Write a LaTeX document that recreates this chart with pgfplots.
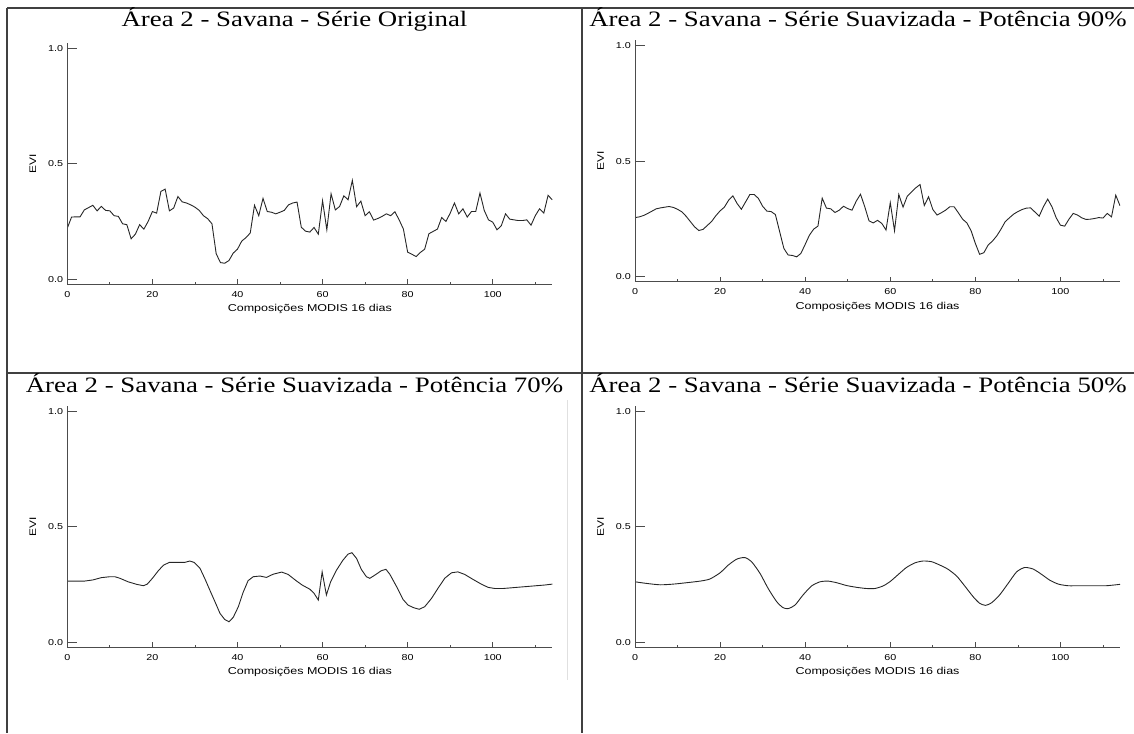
\documentclass[border=0pt]{standalone}
\usepackage{fontspec}
\setmainfont{Liberation Serif}[FakeStretch=1.22]
\setsansfont{Liberation Sans}[FakeStretch=1.25]
\usepackage{pgfplots}
\pgfplotsset{compat=1.18}

\pgfplotsset{
  panelbase/.style={
    scale only axis, width=485pt, height=241.6pt,
    xmin=0, xmax=114, ymin=-0.022, ymax=1.024,
    anchor=south west,
    /pgf/number format/assume math mode=true,
    tick label style={font=\sffamily\fontsize{8.6}{9}\selectfont},
    axis line style={-, black!70, line width=0.9pt},
    tick style={black!70, line width=0.8pt},
    tick align=inside,
  },
  xpanel/.style={panelbase,
    axis x line*=bottom, axis y line=none,
    xtick={0,20,40,60,80,100}, xticklabels={0,20,40,60,80,100},
    minor xtick={10,30,50,70,90,110},
    major tick length=5pt, minor tick length=2.5pt,
    ytick=\empty,
    xlabel={Composições MODIS 16 dias},
    every axis x label/.style={at={(axis description cs:0.5,0)}, anchor=north, inner sep=0pt, yshift=-20pt, font=\sffamily\fontsize{10}{11}\selectfont},
    xticklabel style={anchor=north, inner sep=0pt, yshift=-7pt},
  },
  ypanel/.style={panelbase,
    axis y line*=left, axis x line=none,
    ytick={0,0.5,1}, yticklabels={0.0,0.5,1.0},
    xtick=\empty,
    major tick length=9.5pt,
    ylabel={EVI},
    every axis y label/.style={at={(axis description cs:-0.071,0.5)}, rotate=90, anchor=center, inner sep=0pt, font=\sffamily\fontsize{9.5}{10}\selectfont},
    yticklabel style={anchor=east, inner sep=0pt, xshift=-4pt},
  },
  curve/.style={black!85, line width=0.9pt, mark=none},
}

\begin{document}
\begin{tikzpicture}
\useasboundingbox (0pt,0pt) rectangle (1134pt,733pt);
% table borders
\draw[black!75, line width=1.2pt] (7pt,725pt) -- (1134pt,725pt);
\draw[black!75, line width=1.2pt] (7pt,360pt) -- (1134pt,360pt);
\draw[black!75, line width=1.2pt] (7pt,725pt) -- (7pt,0pt);
\draw[black!75, line width=1.2pt] (582pt,725pt) -- (582pt,0pt);
\draw[black!12, line width=0.8pt] (567pt,333pt) -- (567pt,53pt);

% titles
\node[anchor=base, inner sep=0pt, font=\rmfamily\fontsize{22}{24}\selectfont] at (294.5pt,706pt) {Área 2 - Savana - Série Original};
\node[anchor=base, inner sep=0pt, font=\rmfamily\fontsize{22}{24}\selectfont] at (858pt,706pt) {Área 2 - Savana - Série Suavizada - Potência 90\%};
\node[anchor=base, inner sep=0pt, font=\rmfamily\fontsize{22}{24}\selectfont] at (294.5pt,340pt) {Área 2 - Savana - Série Suavizada - Potência 70\%};
\node[anchor=base, inner sep=0pt, font=\rmfamily\fontsize{22}{24}\selectfont] at (858pt,340pt) {Área 2 - Savana - Série Suavizada - Potência 50\%};

% ---------- Panel 1: original ----------
\begin{axis}[xpanel, at={(67.3pt,448.7pt)}]
\addplot[curve] coordinates {
(0,0.221) (1,0.269) (2,0.270) (3,0.270) (4,0.300) (5,0.310) (6,0.320) (7,0.296) (8,0.315) (9,0.298)
(10,0.296) (11,0.275) (12,0.272) (13,0.240) (14,0.236) (15,0.175) (16,0.195) (17,0.236) (18,0.217) (19,0.250)
(20,0.293) (21,0.286) (22,0.380) (23,0.390) (24,0.296) (25,0.308) (26,0.358) (27,0.335) (28,0.330) (29,0.322)
(30,0.312) (31,0.298) (32,0.275) (33,0.262) (34,0.240) (35,0.110) (36,0.072) (37,0.069) (38,0.081) (39,0.113)
(40,0.130) (41,0.165) (42,0.180) (43,0.200) (44,0.320) (45,0.275) (46,0.350) (47,0.293) (48,0.290) (49,0.283)
(50,0.290) (51,0.298) (52,0.322) (53,0.330) (54,0.334) (55,0.225) (56,0.208) (57,0.204) (58,0.224) (59,0.195)
(60,0.340) (61,0.214) (62,0.370) (63,0.300) (64,0.315) (65,0.361) (66,0.344) (67,0.428) (68,0.314) (69,0.338)
(70,0.275) (71,0.292) (72,0.256) (73,0.263) (74,0.272) (75,0.283) (76,0.275) (77,0.292) (78,0.257) (79,0.217)
(80,0.117) (81,0.108) (82,0.098) (83,0.116) (84,0.130) (85,0.197) (86,0.207) (87,0.217) (88,0.267) (89,0.250)
(90,0.286) (91,0.330) (92,0.283) (93,0.305) (94,0.269) (95,0.293) (96,0.293) (97,0.373) (98,0.298) (99,0.257)
(100,0.247) (101,0.214) (102,0.231) (103,0.283) (104,0.260) (105,0.257) (106,0.254) (107,0.254) (108,0.257) (109,0.234)
(110,0.275) (111,0.305) (112,0.286) (113,0.363) (114,0.344)
};
\end{axis}
\begin{axis}[ypanel, at={(67.3pt,448.7pt)}]
\end{axis}

% ---------- Panel 2: 90% ----------
\begin{axis}[xpanel, at={(635pt,451.2pt)}]
\addplot[curve] coordinates {
(0,0.256) (1,0.259) (2,0.265) (3,0.274) (4,0.284) (5,0.294) (6,0.298) (7,0.301) (8,0.304) (9,0.300)
(10,0.292) (11,0.281) (12,0.262) (13,0.239) (14,0.216) (15,0.200) (16,0.205) (17,0.222) (18,0.239) (19,0.264)
(20,0.285) (21,0.301) (22,0.331) (23,0.350) (24,0.317) (25,0.292) (26,0.324) (27,0.356) (28,0.356) (29,0.339)
(30,0.305) (31,0.284) (32,0.282) (33,0.269) (34,0.195) (35,0.122) (36,0.094) (37,0.092) (38,0.086) (39,0.101)
(40,0.140) (41,0.180) (42,0.206) (43,0.219) (44,0.340) (45,0.297) (46,0.294) (47,0.278) (48,0.288) (49,0.305)
(50,0.295) (51,0.288) (52,0.327) (53,0.357) (54,0.303) (55,0.242) (56,0.233) (57,0.244) (58,0.231) (59,0.202)
(60,0.321) (61,0.199) (62,0.356) (63,0.301) (64,0.349) (65,0.367) (66,0.385) (67,0.399) (68,0.308) (69,0.346)
(70,0.291) (71,0.267) (72,0.277) (73,0.288) (74,0.303) (75,0.303) (76,0.277) (77,0.249) (78,0.233) (79,0.199)
(80,0.144) (81,0.097) (82,0.104) (83,0.137) (84,0.154) (85,0.176) (86,0.205) (87,0.238) (88,0.255) (89,0.271)
(90,0.282) (91,0.291) (92,0.297) (93,0.298) (94,0.280) (95,0.262) (96,0.303) (97,0.336) (98,0.303) (99,0.255)
(100,0.223) (101,0.219) (102,0.249) (103,0.274) (104,0.267) (105,0.255) (106,0.248) (107,0.249) (108,0.252) (109,0.256)
(110,0.254) (111,0.274) (112,0.259) (113,0.353) (114,0.307)
};
\end{axis}
\begin{axis}[ypanel, at={(635pt,451.2pt)}]
\end{axis}

% ---------- Panel 3: 70% ----------
\begin{axis}[xpanel, at={(67.3pt,85.6pt)}]
\addplot[curve] coordinates {
(0,0.265) (2,0.265) (4,0.265) (6,0.270) (8,0.280) (10,0.284) (11.2,0.284) (12.4,0.277) (14.3,0.262) (16.3,0.251)
(17.9,0.245) (18.8,0.252) (20,0.277) (21.4,0.310) (22.6,0.334) (24,0.346) (25.7,0.346) (27.6,0.346) (28.8,0.352) (29.8,0.346)
(31.2,0.320) (32.3,0.277) (33.5,0.226) (34.7,0.176) (35.9,0.125) (37,0.099) (38,0.089) (39,0.108) (40.2,0.154) (41.3,0.215)
(42.5,0.267) (43.7,0.284) (45.3,0.287) (46.8,0.281) (48.4,0.295) (50.4,0.304) (51.9,0.294) (53.7,0.268) (55.2,0.248) (57,0.230)
(58,0.212) (59,0.183) (59.9,0.305) (60.9,0.205) (61.9,0.262) (63.3,0.313) (64.8,0.356) (66,0.382) (66.9,0.388) (68,0.363)
(69.1,0.316) (70.3,0.284) (71.1,0.277) (72.3,0.291) (73.8,0.310) (74.9,0.316) (75.8,0.295) (77.4,0.241) (78.9,0.186) (80.1,0.161)
(81.4,0.150) (82.7,0.143) (84,0.154) (85.6,0.190) (87.1,0.233) (88.7,0.277) (90.3,0.301) (91.8,0.305) (93.4,0.294) (95.4,0.272)
(97.3,0.252) (98.9,0.238) (100.5,0.233) (102.4,0.233) (104.4,0.236) (106.3,0.239) (108.3,0.242) (110.2,0.245) (112.2,0.248) (114,0.252)
};
\end{axis}
\begin{axis}[ypanel, at={(67.3pt,85.6pt)}]
\end{axis}

% ---------- Panel 4: 50% ----------
\begin{axis}[xpanel, at={(635pt,85.6pt)}]
\addplot[curve, smooth, tension=0.4] coordinates {
(0,0.262) (2.7,0.255) (5.9,0.249) (9,0.252) (12.1,0.258) (15.3,0.265) (17.6,0.274) (20,0.301) (21.9,0.334) (23.9,0.360)
(25.8,0.367) (27.4,0.349) (29.4,0.298) (31.3,0.233) (33.3,0.176) (34.8,0.150) (36,0.146) (37.6,0.161) (39.5,0.205) (41.5,0.244)
(43.5,0.262) (45.4,0.265) (47.4,0.258) (49.7,0.246) (52.1,0.238) (54.4,0.233) (56.4,0.233) (58.3,0.244) (59.9,0.262) (61.9,0.294)
(63.8,0.324) (65.8,0.344) (67.7,0.352) (69.7,0.349) (71.7,0.334) (73.6,0.316) (75.6,0.287) (77.5,0.244) (79.5,0.197) (81,0.169)
(82.4,0.160) (83.8,0.171) (85.7,0.205) (87.7,0.255) (89.7,0.305) (91.6,0.324) (93.6,0.317) (95.5,0.295) (97.5,0.269) (99.5,0.252)
(101.8,0.245) (104.5,0.245) (107.7,0.245) (110.8,0.245) (114,0.251)
};
\end{axis}
\begin{axis}[ypanel, at={(635pt,85.6pt)}]
\end{axis}
\end{tikzpicture}
\end{document}
